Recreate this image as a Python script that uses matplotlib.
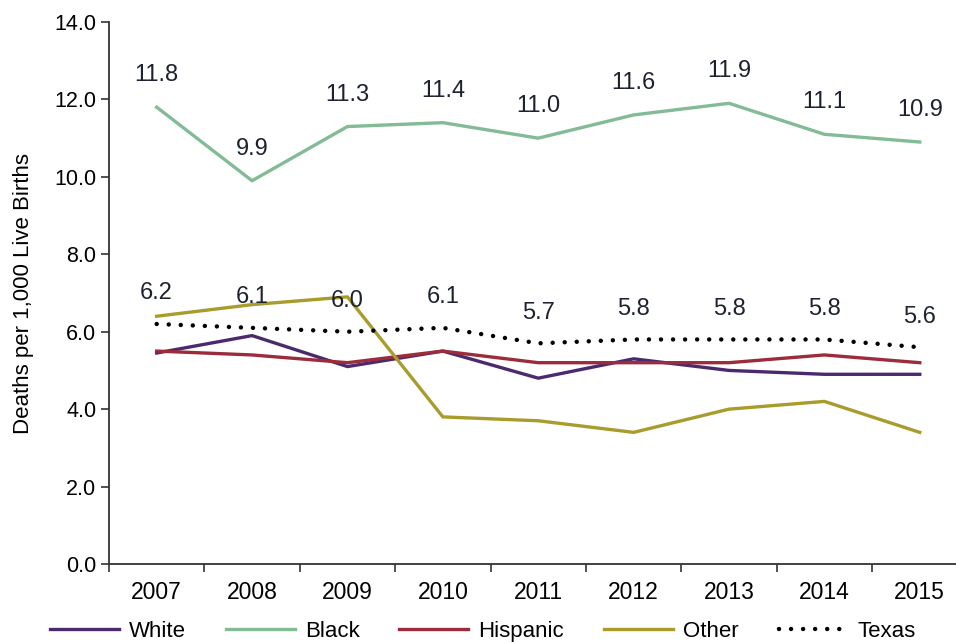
import matplotlib
matplotlib.use('Agg')
import matplotlib.pyplot as plt
import numpy as np

plt.rcParams['font.family'] = ['Liberation Sans', 'DejaVu Sans']

years = ['2007', '2008', '2009', '2010', '2011', '2012', '2013', '2014', '2015']
white = [5.45, 5.9, 5.1, 5.5, 4.8, 5.3, 5.0, 4.9, 4.9]
black = [11.8, 9.9, 11.3, 11.4, 11.0, 11.6, 11.9, 11.1, 10.9]
hispanic = [5.5, 5.4, 5.2, 5.5, 5.2, 5.2, 5.2, 5.4, 5.2]
other = [6.4, 6.7, 6.9, 3.8, 3.7, 3.4, 4.0, 4.2, 3.4]
texas = [6.2, 6.1, 6.0, 6.1, 5.7, 5.8, 5.8, 5.8, 5.6]

c_white = '#4a2a6c'
c_black = '#82bb95'
c_hisp = '#9c2c3c'
c_other = '#a89c2c'

fig = plt.figure(figsize=(9.56, 6.42), dpi=100)
ax = fig.add_axes([0.114, 0.1215, 0.898, 0.8442])
x = np.arange(len(years))

ax.plot(x, white, color=c_white, lw=2.4, label='White')
ax.plot(x, black, color=c_black, lw=2.4, label='Black')
ax.plot(x, hispanic, color=c_hisp, lw=2.4, label='Hispanic')
ax.plot(x, other, color=c_other, lw=2.4, label='Other')
ax.plot(x, texas, color='black', lw=3.2, linestyle=(0, (0.01, 2.7)),
        dash_capstyle='round', label='Texas')

# data labels for Black and Texas
for i in range(len(years)):
    ax.annotate(f'{black[i]:.1f}', (x[i], black[i]), xytext=(0, 23),
                textcoords='offset points', ha='center', va='center',
                fontsize=17, color='#1e2230')
    ax.annotate(f'{texas[i]:.1f}', (x[i], texas[i]), xytext=(0, 22),
                textcoords='offset points', ha='center', va='center',
                fontsize=17, color='#1e2230')

ax.set_xlim(-0.5, 8.5)
ax.set_ylim(0, 14)
ax.set_yticks(np.arange(0, 15, 2))
ax.set_yticklabels([f'{v:.1f}' for v in np.arange(0, 15, 2)], fontsize=15.5)
ax.set_xticks(x)
ax.set_xticklabels(years, fontsize=16.5)
ax.set_xticks(np.arange(-0.5, 9, 1), minor=True)
ax.tick_params(axis='x', which='major', length=0, pad=12)
ax.tick_params(axis='x', which='minor', length=6, width=1.2, color='#333333')
ax.tick_params(axis='y', length=6, width=1.2, color='#333333', pad=3)
ax.spines['top'].set_visible(False)
ax.spines['right'].set_visible(False)
ax.spines['left'].set_linewidth(1.3)
ax.spines['bottom'].set_linewidth(1.3)
ax.spines['left'].set_color('#333333')
ax.spines['bottom'].set_color('#333333')
ax.set_ylabel('Deaths per 1,000 Live Births', fontsize=16, labelpad=15)

fig.legend(loc='center', bbox_to_anchor=(0.505, 0.016), ncol=5, frameon=False,
           handlelength=3.1, columnspacing=1.8, handletextpad=0.45,
           prop={'size': 16})

fig.savefig('out.png', dpi=100)
